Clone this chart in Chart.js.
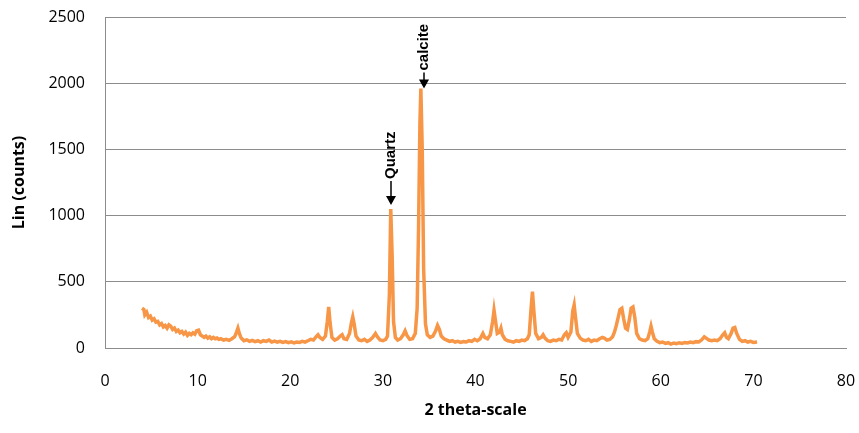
<!DOCTYPE html>
<html>
<head>
<meta charset="utf-8">
<title>XRD pattern</title>
<script src="https://cdn.jsdelivr.net/npm/chart.js@4"></script>
<style>
  body { margin: 0; background: #fff; }
  canvas { display: block; }
</style>
</head>
<body>
<canvas id="xrdChart" width="859" height="433"></canvas>
<script>
// 2 theta positions and intensities
const twoTheta = [
  4.0, 4.2, 4.3, 4.5, 4.7, 4.9, 5.1, 5.3, 5.5, 5.7, 5.9, 6.1, 6.3, 6.5, 6.7, 6.9, 7.1, 7.3, 7.5, 7.7,
  7.9, 8.1, 8.3, 8.5, 8.7, 8.9, 9.1, 9.3, 9.5, 9.7, 9.9, 10.1, 10.3, 10.5, 10.7, 10.9, 11.1, 11.3, 11.5, 11.7,
  11.9, 12.1, 12.3, 12.5, 12.8, 13.1, 13.4, 13.7, 14.0, 14.2, 14.35, 14.5, 14.7, 15.0, 15.3, 15.6, 15.9, 16.2, 16.5, 16.8,
  17.1, 17.4, 17.7, 18.0, 18.3, 18.6, 18.9, 19.2, 19.5, 19.8, 20.1, 20.4, 20.7, 21.0, 21.3, 21.6, 21.9, 22.2, 22.5, 22.8,
  23.0, 23.2, 23.5, 23.8, 24.0, 24.15, 24.3, 24.5, 24.8, 25.1, 25.4, 25.6, 25.8, 26.1, 26.4, 26.6, 26.75, 26.9, 27.1, 27.4,
  27.7, 28.0, 28.3, 28.6, 28.9, 29.2, 29.4, 29.7, 30.0, 30.3, 30.5, 30.7, 30.85, 31.0, 31.15, 31.35, 31.6, 31.9, 32.2, 32.4,
  32.6, 32.9, 33.2, 33.5, 33.7, 33.85, 34.0, 34.1, 34.25, 34.4, 34.6, 34.8, 35.1, 35.4, 35.7, 35.9, 36.1, 36.3, 36.6, 36.9,
  37.2, 37.5, 37.8, 38.1, 38.4, 38.7, 39.0, 39.3, 39.6, 39.9, 40.2, 40.5, 40.8, 41.0, 41.3, 41.6, 41.85, 42.0, 42.15, 42.35,
  42.6, 42.75, 42.9, 43.2, 43.5, 43.8, 44.1, 44.4, 44.7, 45.0, 45.3, 45.6, 45.8, 46.0, 46.15, 46.3, 46.5, 46.8, 47.1, 47.3,
  47.5, 47.8, 48.1, 48.4, 48.7, 49.0, 49.3, 49.6, 49.8, 50.0, 50.3, 50.5, 50.65, 50.8, 51.0, 51.3, 51.6, 51.9, 52.2, 52.5,
  52.8, 53.1, 53.4, 53.7, 53.9, 54.2, 54.5, 54.8, 55.0, 55.2, 55.4, 55.6, 55.8, 56.0, 56.2, 56.4, 56.6, 56.8, 57.0, 57.2,
  57.4, 57.7, 58.0, 58.3, 58.6, 58.8, 58.95, 59.1, 59.3, 59.6, 59.9, 60.2, 60.5, 60.8, 61.1, 61.4, 61.7, 62.0, 62.3, 62.6,
  62.9, 63.2, 63.5, 63.8, 64.1, 64.4, 64.7, 64.9, 65.2, 65.5, 65.8, 66.1, 66.4, 66.7, 66.9, 67.1, 67.3, 67.6, 67.8, 68.0,
  68.2, 68.5, 68.8, 69.1, 69.4, 69.7, 70.0, 70.4
];
const counts = [
  300, 290, 250, 270, 230, 240, 210, 220, 195, 200, 175, 185, 160, 170, 150, 175, 165, 140, 150, 125,
  135, 115, 125, 105, 120, 95, 110, 100, 115, 105, 130, 135, 100, 90, 80, 90, 75, 85, 70, 80,
  70, 75, 65, 70, 60, 65, 58, 70, 85, 120, 150, 110, 75, 55, 62, 50, 58, 48, 55, 45,
  55, 50, 60, 45, 52, 44, 50, 42, 48, 40, 46, 38, 45, 42, 50, 44, 55, 65, 60, 85,
  100, 80, 65, 90, 200, 310, 190, 80, 60, 70, 90, 100, 70, 65, 110, 190, 235, 180, 90, 60,
  55, 65, 50, 60, 80, 110, 85, 60, 55, 65, 90, 400, 1050, 700, 200, 80, 60, 70, 100, 130,
  95, 65, 70, 110, 300, 900, 1700, 1960, 1500, 600, 180, 100, 80, 90, 130, 170, 140, 90, 70, 60,
  50, 55, 45, 50, 42, 48, 45, 55, 50, 65, 55, 70, 110, 80, 70, 100, 200, 285, 210, 110,
  120, 150, 100, 65, 55, 50, 45, 55, 50, 60, 55, 70, 100, 300, 425, 280, 110, 70, 80, 100,
  75, 55, 50, 60, 55, 65, 60, 100, 115, 80, 120, 280, 325, 230, 110, 75, 60, 55, 65, 50,
  60, 55, 70, 80, 75, 60, 65, 85, 120, 170, 230, 290, 300, 220, 150, 140, 210, 300, 310, 230,
  110, 70, 60, 55, 70, 120, 165, 120, 70, 50, 40, 45, 35, 40, 30, 38, 33, 40, 35, 42,
  38, 45, 40, 48, 45, 60, 85, 75, 60, 55, 60, 55, 70, 100, 115, 80, 70, 110, 150, 155,
  110, 65, 50, 55, 45, 50, 42, 45
];

const xTicks = [0, 10, 20, 30, 40, 50, 60, 70, 80];
const yTicks = [0, 500, 1000, 1500, 2000, 2500];

// peak labels
const peakNames = ["Quartz", "calcite"];
const peakTheta = [30.85, 34.1];
const peakCounts = [1050, 1960];

// arrow look per label: gap above peak, shaft length, sideways nudge (px)
const arrowStyle = [
  { gap: 4, len: 24, dx: 0 },
  { gap: 0, len: 16, dx: 3 }
];

const lineColor = "#F79646";
const gridColor = "#8c8c8c";
const tickFont = { family: "'Open Sans', sans-serif", size: 16 };

const peakLabels = {
  id: "peakLabels",
  afterDatasetsDraw(chart) {
    const ctx = chart.ctx;
    const xs = chart.scales.x, ys = chart.scales.y;
    ctx.save();
    ctx.fillStyle = "#000";
    ctx.strokeStyle = "#000";
    ctx.lineWidth = 1.5;
    peakNames.forEach((name, i) => {
      const st = arrowStyle[i];
      const px = Math.round(xs.getPixelForValue(peakTheta[i])) + st.dx;
      const tip = ys.getPixelForValue(peakCounts[i]) - st.gap;
      // arrow shaft + head
      ctx.beginPath();
      ctx.moveTo(px, tip - st.len);
      ctx.lineTo(px, tip - 8);
      ctx.stroke();
      ctx.beginPath();
      ctx.moveTo(px - 5, tip - 9);
      ctx.lineTo(px + 5, tip - 9);
      ctx.lineTo(px, tip);
      ctx.closePath();
      ctx.fill();
      // rotated text
      ctx.save();
      ctx.translate(px, tip - st.len - 2);
      ctx.rotate(-Math.PI / 2);
      ctx.font = "bold 15px 'Liberation Sans', Arial, sans-serif";
      ctx.textAlign = "left";
      ctx.textBaseline = "middle";
      ctx.fillText(name, 0, 0);
      ctx.restore();
    });
    ctx.restore();
  }
};

const points = twoTheta.map((t, i) => ({ x: t, y: counts[i] }));

new Chart(document.getElementById("xrdChart"), {
  type: "line",
  data: {
    datasets: [{
      label: "Lin (counts)",
      data: points,
      borderColor: lineColor,
      borderWidth: 3.5,
      pointRadius: 0,
      tension: 0,
      fill: false
    }]
  },
  options: {
    responsive: false,
    devicePixelRatio: 1,
    animation: false,
    layout: { padding: { top: 17, right: 13, left: 0, bottom: 0 } },
    plugins: { legend: { display: false }, tooltip: { enabled: false } },
    scales: {
      x: {
        type: "linear",
        min: 0,
        max: 80,
        afterBuildTicks: s => { s.ticks = xTicks.map(v => ({ value: v })); },
        afterFit: s => {
          s.height = 85;
          s.paddingLeft = 0;
          s.paddingRight = 0;
        },
        grid: { display: false, drawTicks: false },
        border: { display: true, color: gridColor, width: 1 },
        ticks: { color: "#000", font: tickFont, padding: 24, maxRotation: 0 },
        title: {
          display: true,
          text: "2 theta-scale",
          color: "#000",
          font: { family: "'Open Sans', sans-serif", size: 16, weight: "bold" },
          padding: { top: 0, bottom: 13 }
        }
      },
      y: {
        min: 0,
        max: 2500,
        afterBuildTicks: s => { s.ticks = yTicks.map(v => ({ value: v })); },
        afterFit: s => {
          s.width = 105;
          s.paddingTop = 0;
          s.paddingBottom = 0;
        },
        grid: { color: gridColor, lineWidth: 1, drawTicks: false },
        border: { display: true, color: gridColor, width: 1 },
        ticks: { color: "#000", font: tickFont, padding: 20, callback: v => String(v) },
        title: {
          display: true,
          text: "Lin (counts)",
          color: "#000",
          font: { family: "'Open Sans', sans-serif", size: 16, weight: "bold" },
          padding: { top: 10, bottom: 0 }
        }
      }
    }
  },
  plugins: [peakLabels]
});
</script>
</body>
</html>
